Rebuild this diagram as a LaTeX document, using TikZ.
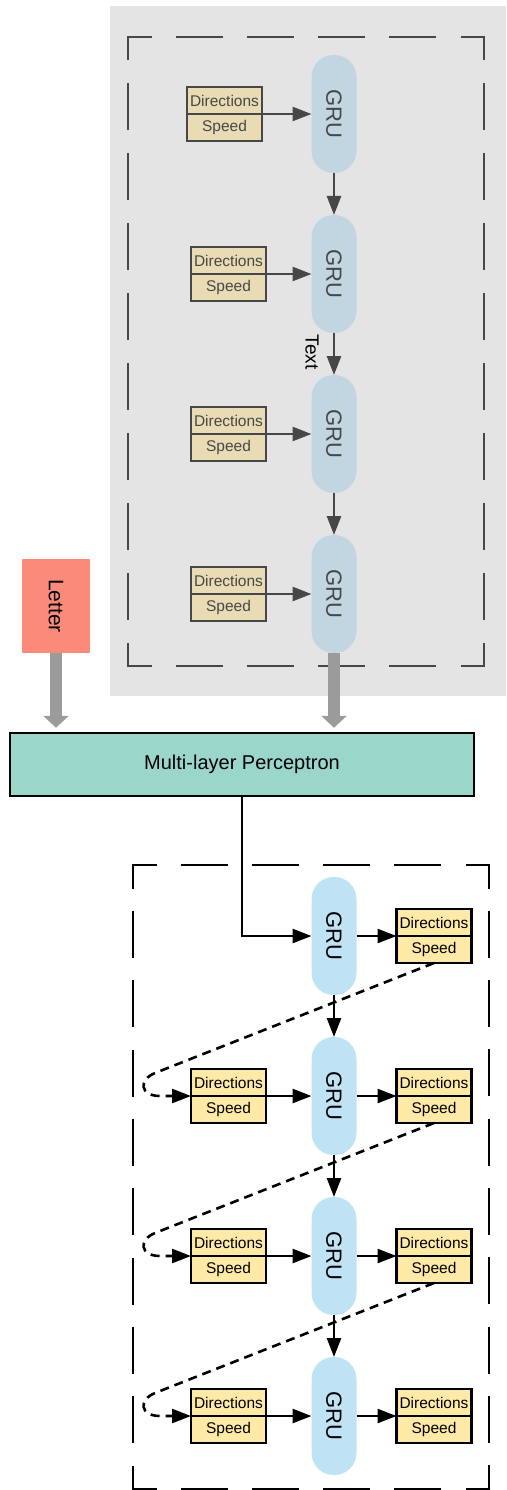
\documentclass[tikz,border=0pt]{standalone}
\usepackage{fontspec}
\setmainfont{Liberation Sans}
\usepackage{graphicx}
\usetikzlibrary{arrows.meta, positioning, calc}

\definecolor{panelgray}{HTML}{E4E4E4}
\definecolor{fadeblue}{HTML}{C2D6E2}
\definecolor{fadetan}{HTML}{E9DCB5}
\definecolor{darkline}{HTML}{474747}
\definecolor{grublue}{HTML}{BFE3F5}
\definecolor{boxyellow}{HTML}{FFE9A6}
\definecolor{mlpgreen}{HTML}{9AD6CA}
\definecolor{lettersalmon}{HTML}{FA8B7B}
\definecolor{fatgray}{HTML}{9B9B9B}

\tikzset{
    gru/.style={rectangle, rounded corners=22pt, minimum width=45pt, minimum height=118pt,
        inner sep=0pt, outer sep=0pt, font=\fontsize{22}{26}\selectfont},
    fieldbox/.style={rectangle, draw, line width=2.5pt, minimum width=75pt, minimum height=27pt,
        inner sep=0pt, outer sep=0pt, font=\fontsize{15.5}{18}\selectfont},
    flow/.style={->, line width=2.6pt},
    fatflow/.style={fatgray, line width=12pt, -{Triangle[length=12pt, width=25pt]}, shorten >=4pt},
    sidedash/.style={line width=2.5pt, dash pattern=on 47pt off #1, dash phase=22.25pt}
}

\begin{document}
\begin{tikzpicture}[x=1pt, y=-1pt, >={Triangle[length=19pt, width=14pt]}]
    % Giữ đúng khung hình
    \useasboundingbox (0,0) rectangle (506,1490);

    % 1. Nền xám và khung nét đứt phía trên (mỗi cạnh một đường)
    \fill[panelgray] (110,6) rectangle (506,696);
    \foreach \ax/\ay/\bx/\by/\g in {126.75/37/485.25/37/24.2pt, 484/35.75/484/667.25/22.9pt,
            485.25/666/126.75/666/24.2pt, 128/667.25/128/35.75/22.9pt}
        \draw[sidedash=\g, darkline] (\ax,\ay) -- (\bx,\by);

    % 2. Bốn khối GRU phía trên cùng các hộp đầu vào
    \foreach \i/\y/\bx in {1/114/224.5, 2/274/228.5, 3/434/228.5, 4/594/228.5} {
        \node[gru, fill=fadeblue, text=darkline] (tgru\i) at (334,\y) {\rotatebox{-90}{GRU}};
        \node[fieldbox, draw=darkline, fill=fadetan, text=darkline, anchor=south] (tdir\i) at (\bx,\y) {Directions};
        \node[fieldbox, draw=darkline, fill=fadetan, text=darkline, below=0pt of tdir\i] (tspd\i) {Speed};
        \draw[flow, darkline] (tdir\i.south east) -- (tgru\i.west);
    }
    \foreach \i/\j in {1/2, 2/3, 3/4}
        \draw[flow, darkline] (tgru\i.south) -- (tgru\j.north);

    \node[rotate=-90, font=\fontsize{19}{22}\selectfont] (textlbl) at (312,352) {Text};

    % 3. Hộp Letter và khối Multi-layer Perceptron
    \node[fill=lettersalmon, minimum width=68pt, minimum height=94pt, inner sep=0pt,
        font=\fontsize{21}{24}\selectfont] (letter) at (56,606) {\rotatebox{-90}{Letter}};
    \node[draw, line width=2.5pt, fill=mlpgreen, minimum width=464pt, minimum height=63pt,
        inner sep=0pt, font=\fontsize{20}{24}\selectfont] (mlp) at (242,764.5) {Multi-layer Perceptron};

    \draw[fatflow] (letter.south) -- (letter.south |- mlp.north);
    \draw[fatflow] (tgru4.south) -- (tgru4.south |- mlp.north);

    % 4. Khung nét đứt phía dưới
    \foreach \ax/\ay/\bx/\by/\g in {131.75/865/490.25/865/24.2pt, 489/863.75/489/1490.25/22.3pt,
            490.25/1489/131.75/1489/24.2pt, 133/1490.25/133/863.75/22.3pt}
        \draw[sidedash=\g, black] (\ax,\ay) -- (\bx,\by);

    % 5. Bốn khối GRU phía dưới và các hộp đầu ra
    \foreach \i/\y in {1/936, 2/1096, 3/1256, 4/1416} {
        \node[gru, fill=grublue] (bgru\i) at (334,\y) {\rotatebox{-90}{GRU}};
        \node[fieldbox, fill=boxyellow, anchor=south] (bdirR\i) at (434,\y) {Directions};
        \node[fieldbox, fill=boxyellow, below=0pt of bdirR\i] (bspdR\i) {Speed};
        \draw[flow] (bgru\i.east) -- (bdirR\i.south west);
    }
    \foreach \i/\y in {2/1096, 3/1256, 4/1416} {
        \node[fieldbox, fill=boxyellow, anchor=south] (bdirL\i) at (228.5,\y) {Directions};
        \node[fieldbox, fill=boxyellow, below=0pt of bdirL\i] (bspdL\i) {Speed};
        \draw[flow] (bdirL\i.south east) -- (bgru\i.west);
    }

    \draw[flow] (mlp.south) |- (bgru1.west);
    \foreach \i/\j in {1/2, 2/3, 3/4} {
        \draw[flow] (bgru\i.south) -- (bgru\j.north);
        % đường nét đứt quay lại đầu vào kế tiếp
        \draw[flow, dash pattern=on 9pt off 6pt] (bspdR\i.south)
            -- ($(bdirL\j.south west)+(-36,-23)$)
            .. controls +(-17,7) and +(-20,0) .. ($(bdirL\j.south west)+(-31,0)$)
            -- (bdirL\j.south west);
    }

\end{tikzpicture}
\end{document}
